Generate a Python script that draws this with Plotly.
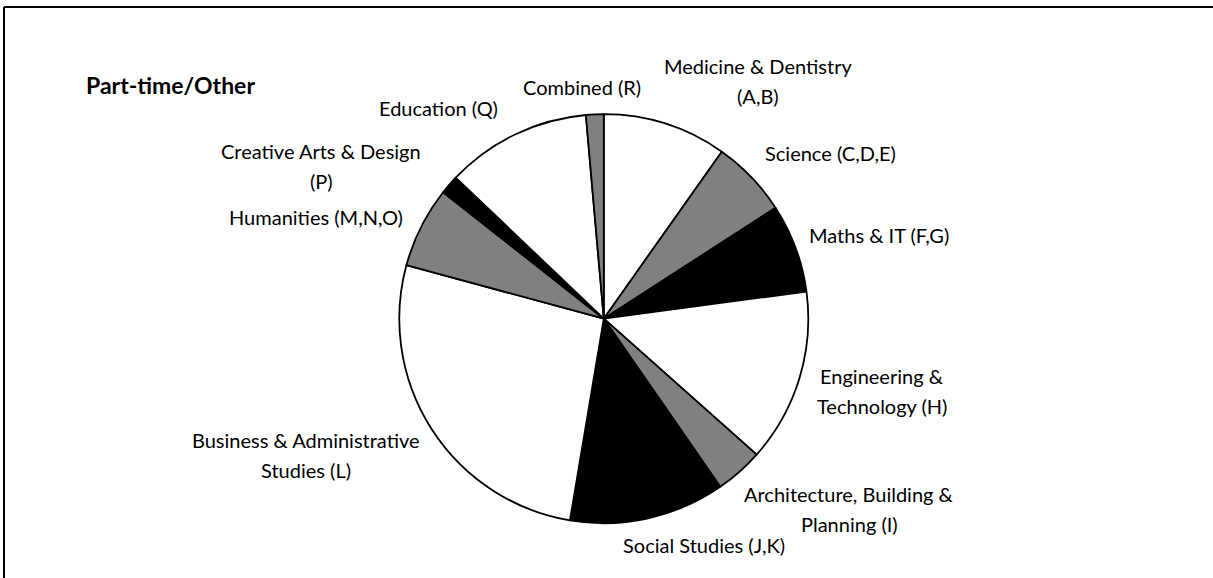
import plotly.graph_objects as go

# subject areas, clockwise from 12 o'clock
subjects = [
    "Medicine & Dentistry<br>(A,B)",
    "Science (C,D,E)",
    "Maths & IT (F,G)",
    "Engineering &<br>Technology (H)",
    "Architecture, Building &<br>Planning (I)",
    "Social Studies (J,K)",
    "Business & Administrative<br>Studies (L)",
    "Humanities (M,N,O)",
    "Creative Arts & Design<br>(P)",
    "Education (Q)",
    "Combined (R)",
]
share_pct = [9.8, 6.1, 7.0, 13.7, 3.8, 12.3, 26.6, 6.4, 1.5, 11.5, 1.4]

W, H = 1213, 578
fills = ["#ffffff", "#808080", "#000000"]

# label anchor points (pixel centre of first line)
label_pos = [
    (758, 66), (830, 153), (879, 235), (882, 376), (849, 494), (704, 545),
    (306, 440), (316, 217), (321, 151), (438, 108), (582, 87),
]
line_gap = 30

fig = go.Figure(go.Pie(
    labels=[s.replace("<br>", " ") for s in subjects],
    values=share_pct,
    sort=False,
    direction="clockwise",
    rotation=0,
    textinfo="none",
    hoverinfo="label+percent",
    marker=dict(colors=[fills[i % 3] for i in range(len(share_pct))],
                line=dict(color="black", width=1.8)),
    domain=dict(x=[(603.8 - 204.5) / W, (603.8 + 204.5) / W],
                y=[(578 - 318.7 - 204.5) / H, (578 - 318.7 + 204.5) / H]),
    showlegend=False,
))

annotations = []
for text, (px_, py_) in zip(subjects, label_pos):
    for k, line in enumerate(text.split("<br>")):
        annotations.append(dict(
            x=px_ / W, y=1 - (py_ + k * line_gap) / H, xref="paper", yref="paper",
            text=line, showarrow=False, xanchor="center", yanchor="middle",
            font=dict(family="Lato", size=20, color="black"),
        ))

annotations.append(dict(
    x=84 / W, y=1 - 85 / H, xref="paper", yref="paper",
    text="<b>Part-time/Other</b>", showarrow=False, xanchor="left", yanchor="middle",
    font=dict(family="Lato", size=23, color="black"),
))

fig.update_layout(
    width=W, height=H,
    margin=dict(l=0, r=0, t=0, b=0),
    paper_bgcolor="white",
    plot_bgcolor="white",
    annotations=annotations,
    shapes=[
        dict(type="line", xref="paper", yref="paper", x0=4 / W, x1=1, y0=1 - 7 / H, y1=1 - 7 / H,
             line=dict(color="black", width=2)),
        dict(type="line", xref="paper", yref="paper", x0=4 / W, x1=4 / W, y0=0, y1=1 - 7 / H,
             line=dict(color="black", width=2)),
    ],
)

fig.write_html("out.html", config={"displayModeBar": False},
               post_script="document.body.style.margin='0';document.body.style.overflow='hidden';")
